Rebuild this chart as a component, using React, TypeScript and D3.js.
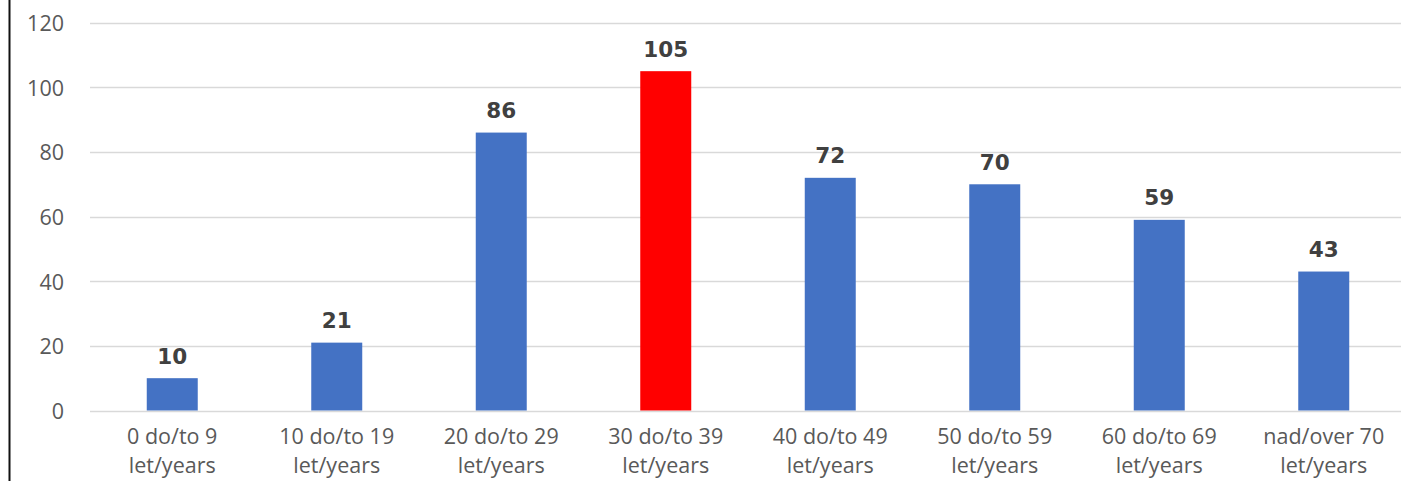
import React from "react";
import * as d3 from "d3";

const categories: string[][] = [
  ["0 do/to 9", "let/years"],
  ["10 do/to 19", "let/years"],
  ["20 do/to 29", "let/years"],
  ["30 do/to 39", "let/years"],
  ["40 do/to 49", "let/years"],
  ["50 do/to 59", "let/years"],
  ["60 do/to 69", "let/years"],
  ["nad/over 70", "let/years"],
];
const values: number[] = [10, 21, 86, 105, 72, 70, 59, 43];
const highlightIndex = 3;
const yTicks: number[] = [0, 20, 40, 60, 80, 100, 120];

const W = 1401;
const H = 481;

export default function App() {
  const keys = categories.map((c) => c.join(" "));
  const x = d3
    .scaleBand<string>()
    .domain(keys)
    .range([90, 1406])
    .paddingInner(0.69)
    .paddingOuter(0.345);
  const y = d3.scaleLinear().domain([0, 120]).range([410.5, 22.7]);
  const font = "'Open Sans', sans-serif";
  const boldFont = "'DejaVu Sans', Verdana, sans-serif";
  const catSize = 21.5;
  const catGap = 29.6;

  return (
    <svg
      width={W}
      height={H}
      style={{ position: "absolute", left: 0, top: 0, display: "block", background: "#fff" }}
    >
      <line x1={9.5} x2={9.5} y1={0} y2={H} stroke="#111" strokeWidth={2} />
      {yTicks.map((t) => (
        <g key={t}>
          <line x1={90} x2={W} y1={Math.round(y(t)) + 0.5} y2={Math.round(y(t)) + 0.5} stroke="#d9d9d9" strokeWidth={1.3} />
          <text
            x={64}
            y={y(t)}
            textAnchor="end"
            dominantBaseline="central"
            fontFamily={font}
            fontSize={21.5}
            fill="#595959"
          >
            {t}
          </text>
        </g>
      ))}
      {values.map((v, i) => {
        const k = keys[i];
        const bx = x(k)!;
        const cx = bx + x.bandwidth() / 2;
        return (
          <g key={k}>
            <rect
              x={bx}
              y={y(v)}
              width={x.bandwidth()}
              height={y(0) - y(v)}
              fill={i === highlightIndex ? "#FF0000" : "#4472C4"}
            />
            <text
              x={cx}
              y={y(v) - 14.5}
              textAnchor="middle"
              fontFamily={boldFont}
              fontWeight="bold"
              fontSize={21.5}
              fill="#404040"
            >
              {v}
            </text>
            {categories[i].map((line, j) => (
              <text
                key={j}
                x={cx}
                y={443.5 + j * catGap}
                textAnchor="middle"
                fontFamily={font}
                fontSize={catSize}
                fill="#595959"
              >
                {line}
              </text>
            ))}
          </g>
        );
      })}
    </svg>
  );
}
